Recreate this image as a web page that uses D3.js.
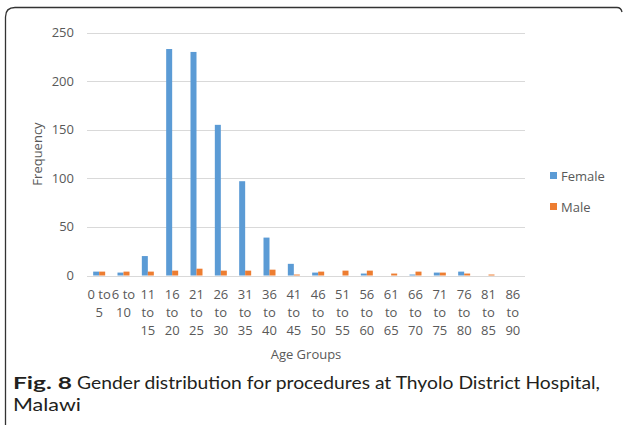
<!DOCTYPE html>
<html>
<head>
<meta charset="utf-8">
<script src="https://cdn.jsdelivr.net/npm/d3@7"></script>
<style>
  body { margin: 0; background: #fff; }
  svg { display: block; }
</style>
</head>
<body>
<div id="chart"></div>
<script>
// age groups (each label broken into lines as in the original)
var ageGroups = ["0 to 5", "6 to 10", "11 to 15", "16 to 20", "21 to 25", "26 to 30",
  "31 to 35", "36 to 40", "41 to 45", "46 to 50", "51 to 55", "56 to 60",
  "61 to 65", "66 to 70", "71 to 75", "76 to 80", "81 to 85", "86 to 90"];
var ageLines = [["0 to", "5"], ["6 to", "10"], ["11", "to", "15"], ["16", "to", "20"],
  ["21", "to", "25"], ["26", "to", "30"], ["31", "to", "35"], ["36", "to", "40"],
  ["41", "to", "45"], ["46", "to", "50"], ["51", "to", "55"], ["56", "to", "60"],
  ["61", "to", "65"], ["66", "to", "70"], ["71", "to", "75"], ["76", "to", "80"],
  ["81", "to", "85"], ["86", "to", "90"]];
var female = [4, 3, 20, 233, 230, 155, 97, 39, 12, 3, 0, 2, 0, 1, 3, 4, 0, 0];
var male   = [4, 4, 4, 5, 7, 5, 5, 6, 1, 4, 5, 5, 2, 4, 3, 2, 1, 0];
var seriesNames = ["Female", "Male"];
var seriesColors = ["#5b9bd5", "#ed7d31"];
var yTicks = [0, 50, 100, 150, 200, 250];

var W = 624, H = 425;
var svg = d3.select("#chart").append("svg").attr("width", W).attr("height", H);

// figure frame (rounded top-left corner, open bottom)
svg.append("path")
  .attr("d", "M5.5,425 L5.5,17 Q5.5,7.5 15,7.5 L617,7.5 Q621,7.5 622,12")
  .attr("fill", "none").attr("stroke", "#333").attr("stroke-width", 1.3);

var x = d3.scaleBand().domain(ageGroups).range([87, 525]);
var y = d3.scaleLinear().domain([0, 250]).range([275.5, 32.5]);
var inner = d3.scaleBand().domain(seriesNames).range([0, 12]);
var font = "'Open Sans', 'Segoe UI', sans-serif";
var fs = 13;

// gridlines
svg.append("g").selectAll("line").data(yTicks).enter().append("line")
  .attr("x1", 87).attr("x2", 525)
  .attr("y1", function(d) { return Math.round(y(d)) + 0.5; })
  .attr("y2", function(d) { return Math.round(y(d)) + 0.5; })
  .attr("stroke", "#d9d9d9").attr("stroke-width", 1);

// y tick labels
svg.append("g").selectAll("text").data(yTicks).enter().append("text")
  .attr("x", 74).attr("y", function(d) { return y(d); })
  .attr("dy", "0.35em").attr("text-anchor", "end")
  .attr("font-family", font).attr("font-size", fs).attr("fill", "#595959")
  .text(function(d) { return d; });

// bars
var data = [female, male];
data.forEach(function(vals, si) {
  svg.append("g").selectAll("rect").data(vals).enter().append("rect")
    .attr("x", function(d, i) { return x(ageGroups[i]) + (x.bandwidth() - 12) / 2 + inner(seriesNames[si]); })
    .attr("width", inner.bandwidth())
    .attr("y", function(d) { return y(d); })
    .attr("height", function(d) { return y(0) - y(d); })
    .attr("fill", seriesColors[si]);
});

// x tick labels
var xl = svg.append("g").selectAll("text").data(ageGroups).enter().append("text")
  .attr("text-anchor", "middle")
  .attr("font-family", font).attr("font-size", fs).attr("fill", "#595959");
xl.each(function(d, i) {
  var t = d3.select(this);
  ageLines[i].forEach(function(line, k) {
    t.append("tspan").attr("x", x(d) + x.bandwidth() / 2).attr("y", 299 + k * 18).text(line);
  });
});

// axis titles
svg.append("text").attr("x", 306).attr("y", 359).attr("text-anchor", "middle")
  .attr("font-family", font).attr("font-size", fs).attr("fill", "#595959").text("Age Groups");
svg.append("text").attr("transform", "translate(42,154) rotate(-90)").attr("text-anchor", "middle")
  .attr("font-family", font).attr("font-size", fs).attr("fill", "#595959").text("Frequency");

// legend
var lg = svg.append("g").selectAll("g").data(seriesNames).enter().append("g")
  .attr("transform", function(d, i) { return "translate(550," + (172 + i * 31) + ")"; });
lg.append("rect").attr("width", 7).attr("height", 7)
  .attr("fill", function(d, i) { return seriesColors[i]; });
lg.append("text").attr("x", 11).attr("y", 4).attr("dy", "0.35em")
  .attr("font-family", font).attr("font-size", fs).attr("fill", "#595959")
  .text(function(d) { return d; });

// caption
var capFont = "Lato, 'Open Sans', sans-serif";
svg.append("text").attr("x", 13).attr("y", 389)
  .attr("font-family", capFont).attr("font-size", 17.5).attr("font-weight", "bold").attr("fill", "#231f20")
  .attr("textLength", 59).attr("lengthAdjust", "spacingAndGlyphs")
  .text("Fig. 8");
svg.append("text").attr("x", 77).attr("y", 389)
  .attr("font-family", capFont).attr("font-size", 17.5).attr("fill", "#231f20")
  .attr("textLength", 523).attr("lengthAdjust", "spacingAndGlyphs")
  .text("Gender distribution for procedures at Thyolo District Hospital,");
svg.append("text").attr("x", 13).attr("y", 411)
  .attr("font-family", capFont).attr("font-size", 17.5).attr("fill", "#231f20")
  .attr("textLength", 68).attr("lengthAdjust", "spacingAndGlyphs")
  .text("Malawi");
</script>
</body>
</html>
